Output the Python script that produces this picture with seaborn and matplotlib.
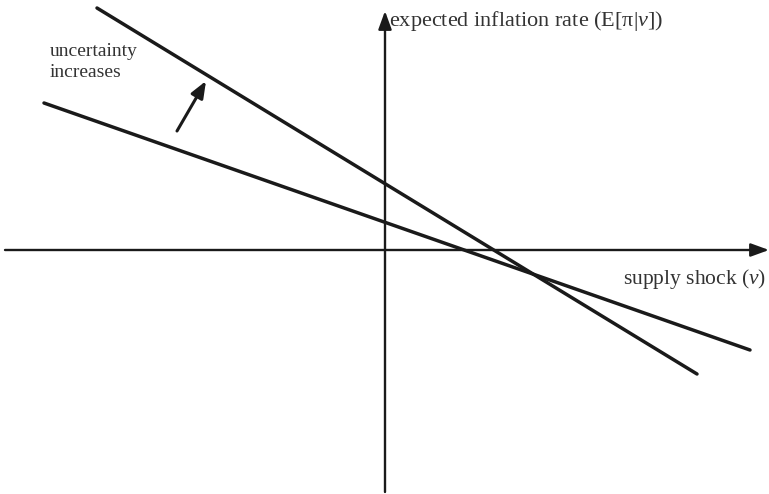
import pandas as pd
import matplotlib.pyplot as plt
import seaborn as sns

# Line endpoints (shock v, expected inflation)
low_var_x = [-341, 365]
low_var_y = [147, -100]
high_var_x = [-288, 312]
high_var_y = [242, -124]

x_axis_label = 'supply shock ($v$)'
y_axis_label = 'expected inflation rate (E[π|$v$])'
note_text = 'uncertainty\nincreases'


def main():
    sns.set_style('white')
    plt.rcParams['font.family'] = ['Liberation Serif', 'DejaVu Serif']
    plt.rcParams['mathtext.fontset'] = 'custom'
    plt.rcParams['mathtext.it'] = 'Liberation Serif:italic'
    plt.rcParams['mathtext.rm'] = 'Liberation Serif'

    df = pd.concat([
        pd.DataFrame({'v': low_var_x, 'E': low_var_y, 'case': 'low'}),
        pd.DataFrame({'v': high_var_x, 'E': high_var_y, 'case': 'high'}),
    ])

    fig = plt.figure(figsize=(7.69, 4.94), dpi=100)
    ax = fig.add_axes([0, 0, 1, 1])
    sns.lineplot(data=df, x='v', y='E', units='case', estimator=None,
                 color='#1a1a1a', linewidth=2.5, ax=ax, legend=False)

    ax.set_xlim(-385, 384)
    ax.set_ylim(-244, 250)
    ax.axis('off')

    # coordinate axes with arrow heads
    arrow = dict(arrowstyle='-|>,head_length=1.1,head_width=0.4',
                 color='#1a1a1a', lw=1.7, shrinkA=0, shrinkB=0)
    ax.annotate('', xy=(384, 0), xytext=(-380, 0), arrowprops=arrow)
    ax.annotate('', xy=(0, 239), xytext=(0, -242), arrowprops=arrow)
    ax.annotate('', xy=(-179, 169), xytext=(-208, 119),
                arrowprops=dict(arrowstyle='-|>,head_length=1.0,head_width=0.4',
                                color='#1a1a1a', lw=2.2, shrinkA=0, shrinkB=0))

    ax.text(4, 229, y_axis_label, fontsize=16, color='#333333',
            ha='left', va='center')
    ax.text(381, -29, x_axis_label, fontsize=15.5, color='#333333',
            ha='right', va='center')
    ax.text(-335, 188, note_text, fontsize=14, color='#333333',
            ha='left', va='center', linespacing=1.35)

    fig.savefig('out.png', dpi=100)


if __name__ == '__main__':
    main()
